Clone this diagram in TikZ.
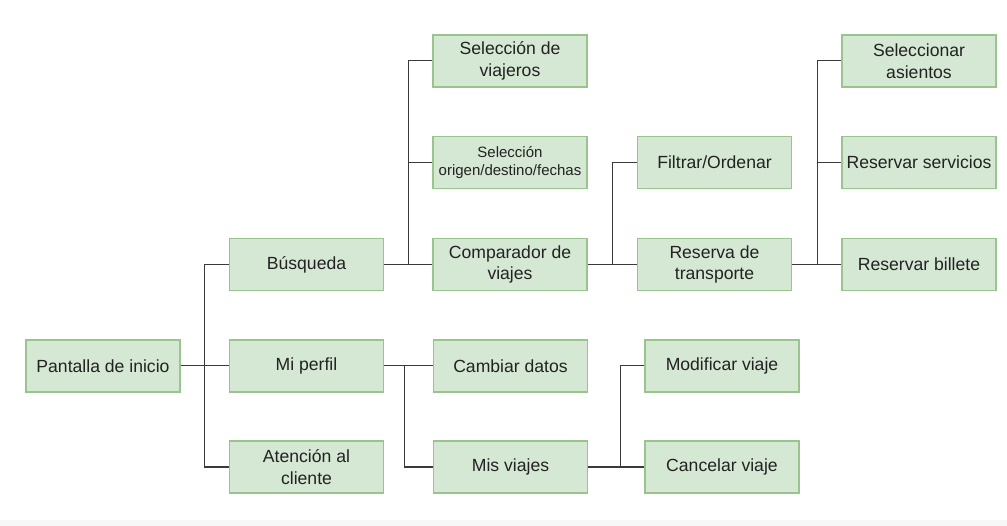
\documentclass[tikz,border=0pt]{standalone}
\usepackage{fontspec}
\setmainfont{Liberation Sans}
\definecolor{boxfill}{HTML}{D5E8D4}
\definecolor{boxline}{HTML}{9AC48E}
\definecolor{wire}{HTML}{3A3A3A}
\definecolor{txt}{HTML}{222222}
\begin{document}
\begin{tikzpicture}[x=1pt,y=-1pt,
  box/.style={rectangle, fill=boxfill, draw=boxline, line width=1.3pt,
    minimum width=154pt, minimum height=52pt, inner sep=0pt, align=center,
    text=txt, font=\fontsize{17.6}{21.6}\selectfont},
  smallbox/.style={box, font=\fontsize{15}{17.5}\selectfont},
  wireline/.style={draw=wire, line width=1pt}]
\useasboundingbox (0,0) rectangle (1007,526);
\fill[black!3] (0,520) rectangle (1007,526);
% nodes
\node[box] (pant) at (103,366) {Pantalla de inicio};
\node[box] (bus) at (306.5,264.5) {Búsqueda};
\node[box] (perf) at (306.5,366) {Mi perfil};
\node[box] (atc) at (306.5,467) {Atención al\\cliente};
\node[box] (selv) at (510,61) {Selección de\\viajeros};
\node[smallbox] (selo) at (510,162.5) {Selección\\origen/destino/fechas};
\node[box] (comp) at (510,264.5) {Comparador de\\viajes};
\node[box] (filt) at (714.5,162.5) {Filtrar/Ordenar};
\node[box] (rest) at (714.5,264.5) {Reserva de\\transporte};
\node[box] (sela) at (919,61) {Seleccionar\\asientos};
\node[box] (ress) at (919,162.5) {Reservar servicios};
\node[box] (resb) at (919,264.5) {Reservar billete};
\node[box] (camb) at (510.5,366) {Cambiar datos};
\node[box] (misv) at (510.5,467) {Mis viajes};
\node[box] (modv) at (722,366) {Modificar viaje};
\node[box] (canv) at (722,467) {Cancelar viaje};
% junctions
\coordinate (j1) at (204,366);
\coordinate (j2) at (408,264.5);
\coordinate (j3) at (612,264.5);
\coordinate (j4) at (817,264.5);
\coordinate (j5) at (404,366);
\coordinate (j6) at (620,467);
% connectors
\draw[wireline] (pant.east) -- (j1);
\draw[wireline] (j1) |- (bus.west);
\draw[wireline] (j1) |- (atc.west);
\draw[wireline] (j1) -- (perf.west);
\draw[wireline] (bus.east) -- (j2);
\draw[wireline] (j2) |- (selv.west);
\draw[wireline] (j2) |- (selo.west);
\draw[wireline] (j2) -- (comp.west);
\draw[wireline] (comp.east) -- (j3);
\draw[wireline] (j3) |- (filt.west);
\draw[wireline] (j3) -- (rest.west);
\draw[wireline] (rest.east) -- (j4);
\draw[wireline] (j4) |- (sela.west);
\draw[wireline] (j4) |- (ress.west);
\draw[wireline] (j4) -- (resb.west);
\draw[wireline] (perf.east) -- (j5);
\draw[wireline] (j5) -- (camb.west);
\draw[wireline] (j5) |- (misv.west);
\draw[wireline] (misv.east) -- (j6);
\draw[wireline] (j6) |- (modv.west);
\draw[wireline] (j6) -- (canv.west);
\end{tikzpicture}
\end{document}
